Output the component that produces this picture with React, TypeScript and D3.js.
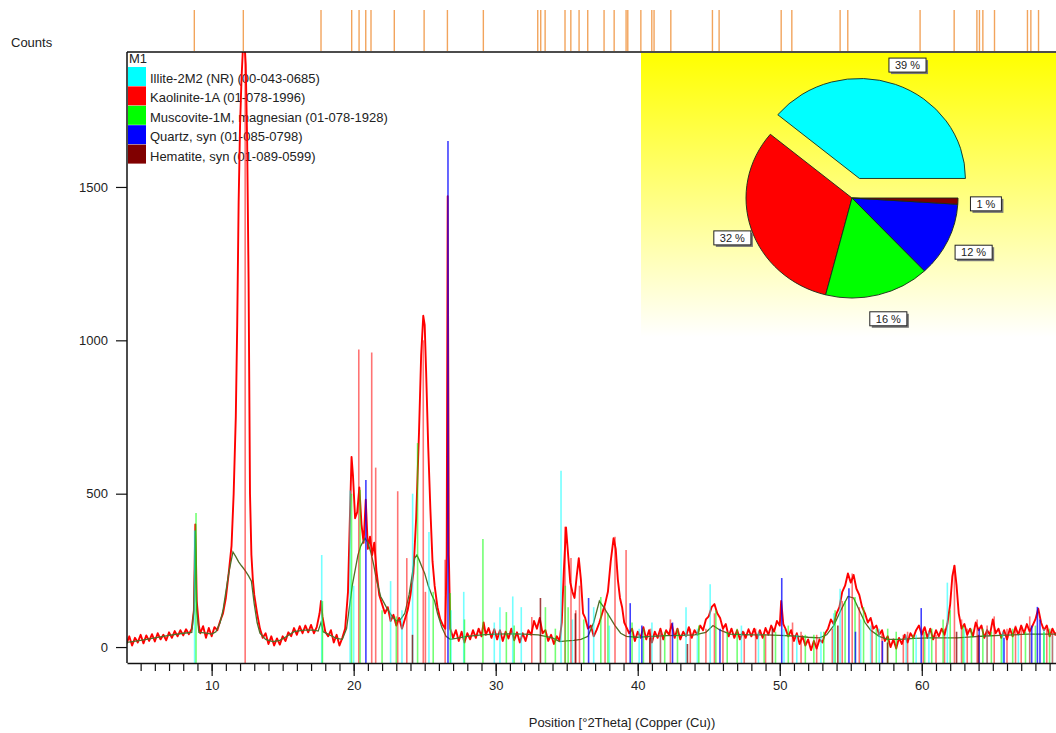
import React, { useEffect, useRef } from "react";
import * as d3 from "d3";

const W = 1056;
const H = 733;

const phaseNames = [
  "Illite-2M2 (NR) (00-043-0685)",
  "Kaolinite-1A (01-078-1996)",
  "Muscovite-1M, magnesian (01-078-1928)",
  "Quartz, syn (01-085-0798)",
  "Hematite, syn (01-089-0599)",
];
const phaseColors = ["#00ffff", "#ff0000", "#00ff00", "#0000ff", "#800000"];
const phasePercents = [39, 32, 16, 12, 1];

const xTicks = [10, 20, 30, 40, 50, 60];
const yTicks = [0, 500, 1000, 1500];

// peak list marks above the plot (°2θ)
const peakList = [
  8.78, 12.23, 17.7, 19.86, 20.38, 20.85, 21.22, 22.86, 24.96, 26.6, 29.13,
  32.96, 33.17, 33.48, 34.88, 35.29, 35.87, 36.48, 37.63, 38.34, 39.18, 39.3,
  40.22, 40.99, 41.15, 42.33, 45.26, 45.73, 50.1, 50.85, 54.25, 54.79, 59.88,
  62.28, 63.88, 64.06, 64.3, 65.12, 67.44, 67.68, 68.22,
];

// measured scan [°2θ, counts]
const measured: [number, number][] = [
  [4.0, 10], [4.2, 35], [4.4, 5], [4.6, 30], [4.8, 15], [5.0, 40], [5.2, 12], [5.4, 38],
  [5.6, 20], [5.8, 42], [6.0, 18], [6.2, 45], [6.4, 25], [6.6, 40], [6.8, 22], [7.0, 48],
  [7.2, 30], [7.4, 52], [7.6, 35], [7.8, 55], [8.0, 38], [8.2, 58], [8.4, 42], [8.6, 60],
  [8.75, 120], [8.85, 400], [8.95, 150], [9.1, 70], [9.2, 45], [9.4, 68], [9.6, 30], [9.8, 62],
  [10.0, 35], [10.2, 65], [10.4, 55], [10.6, 85], [10.8, 110], [11.0, 160], [11.2, 240],
  [11.4, 330], [11.55, 500], [11.7, 750], [11.8, 1050], [11.9, 1450], [12.0, 1700],
  [12.1, 1850], [12.2, 1950], [12.3, 1980], [12.4, 1900], [12.5, 1650], [12.6, 1200],
  [12.7, 500], [12.8, 300], [12.9, 220], [13.0, 170], [13.2, 110], [13.4, 60], [13.6, 30],
  [13.8, 45], [14.0, 10], [14.2, 35], [14.4, 5], [14.6, 28], [14.8, 8], [15.0, 35],
  [15.2, 20], [15.4, 48], [15.6, 35], [15.8, 62], [16.0, 40], [16.2, 68], [16.4, 45],
  [16.6, 70], [16.8, 48], [17.0, 72], [17.2, 45], [17.4, 65], [17.6, 110], [17.7, 150],
  [17.8, 100], [18.0, 50], [18.2, 35], [18.4, 55], [18.6, 15], [18.8, 40], [19.0, 5],
  [19.2, 30], [19.4, 60], [19.6, 180], [19.75, 450], [19.85, 620], [19.95, 560], [20.1, 420],
  [20.25, 440], [20.4, 520], [20.55, 400], [20.7, 340], [20.85, 480], [21.0, 320],
  [21.15, 360], [21.3, 300], [21.45, 340], [21.6, 250], [21.8, 170], [22.0, 140],
  [22.2, 110], [22.4, 130], [22.6, 85], [22.8, 105], [23.0, 70], [23.2, 95], [23.4, 60],
  [23.6, 90], [23.8, 120], [24.0, 170], [24.2, 240], [24.4, 420], [24.6, 700], [24.75, 950],
  [24.9, 1080], [25.0, 1050], [25.1, 900], [25.25, 650], [25.4, 450], [25.55, 280],
  [25.7, 200], [25.9, 130], [26.1, 90], [26.3, 70], [26.45, 60], [26.55, 300], [26.62, 1470],
  [26.7, 300], [26.8, 60], [27.0, 30], [27.2, 55], [27.4, 20], [27.6, 50], [27.8, 15],
  [28.0, 45], [28.2, 25], [28.4, 55], [28.6, 30], [28.8, 60], [29.0, 35], [29.15, 80],
  [29.3, 40], [29.5, 62], [29.7, 30], [29.9, 58], [30.1, 25], [30.3, 55], [30.5, 20],
  [30.7, 50], [30.9, 28], [31.1, 60], [31.3, 22], [31.5, 48], [31.7, 15], [31.9, 45],
  [32.1, 20], [32.3, 55], [32.5, 40], [32.7, 85], [32.9, 60], [33.1, 95], [33.3, 45],
  [33.5, 55], [33.7, 20], [33.9, 40], [34.1, 10], [34.3, 35], [34.5, 20], [34.65, 80],
  [34.8, 250], [34.95, 390], [35.1, 300], [35.25, 210], [35.4, 180], [35.55, 160],
  [35.7, 230], [35.85, 290], [36.0, 220], [36.15, 110], [36.3, 95], [36.5, 60], [36.7, 70],
  [36.9, 35], [37.1, 55], [37.3, 80], [37.5, 110], [37.7, 140], [37.9, 180], [38.1, 280],
  [38.3, 355], [38.45, 320], [38.6, 220], [38.75, 160], [38.9, 130], [39.05, 80], [39.2, 65],
  [39.4, 45], [39.6, 60], [39.8, 20], [40.0, 50], [40.2, 30], [40.4, 65], [40.6, 25],
  [40.8, 55], [41.0, 15], [41.2, 50], [41.4, 30], [41.6, 60], [41.8, 25], [42.0, 55],
  [42.2, 40], [42.4, 75], [42.6, 30], [42.8, 60], [43.0, 25], [43.2, 50], [43.4, 35],
  [43.6, 65], [43.8, 30], [44.0, 55], [44.2, 40], [44.4, 70], [44.6, 55], [44.8, 90],
  [45.0, 100], [45.2, 130], [45.4, 140], [45.6, 110], [45.8, 95], [46.0, 60], [46.2, 75],
  [46.4, 35], [46.6, 60], [46.8, 30], [47.0, 55], [47.2, 25], [47.4, 50], [47.6, 30],
  [47.8, 58], [48.0, 35], [48.2, 60], [48.4, 28], [48.6, 55], [48.8, 30], [49.0, 62],
  [49.2, 40], [49.4, 70], [49.6, 50], [49.8, 85], [50.0, 70], [50.1, 150], [50.25, 75],
  [50.4, 60], [50.6, 35], [50.8, 55], [51.0, 20], [51.2, 45], [51.4, 10], [51.6, 35],
  [51.8, 5], [52.0, 25], [52.2, -10], [52.4, 20], [52.6, -5], [52.8, 25], [53.0, 15],
  [53.2, 45], [53.4, 60], [53.6, 90], [53.8, 75], [54.0, 110], [54.2, 130], [54.4, 180],
  [54.6, 200], [54.8, 240], [55.0, 210], [55.2, 235], [55.4, 190], [55.6, 170], [55.8, 130],
  [56.0, 110], [56.2, 80], [56.4, 95], [56.6, 60], [56.8, 70], [57.0, 40], [57.2, 55],
  [57.4, 20], [57.6, 35], [57.8, 0], [58.0, 25], [58.2, -5], [58.4, 30], [58.6, 10],
  [58.8, 40], [59.0, 15], [59.2, 45], [59.4, 30], [59.6, 55], [59.8, 70], [60.0, 40],
  [60.2, 65], [60.4, 30], [60.6, 60], [60.8, 25], [61.0, 55], [61.2, 35], [61.4, 60],
  [61.6, 40], [61.8, 75], [62.0, 140], [62.15, 230], [62.3, 265], [62.45, 200], [62.6, 110],
  [62.8, 60], [63.0, 75], [63.2, 40], [63.4, 60], [63.6, 35], [63.8, 80], [64.0, 55],
  [64.2, 70], [64.4, 30], [64.6, 55], [64.8, 40], [65.0, 90], [65.2, 45], [65.4, 60],
  [65.6, 30], [65.8, 55], [66.0, 25], [66.2, 60], [66.4, 35], [66.6, 65], [66.8, 40],
  [67.0, 70], [67.2, 45], [67.4, 75], [67.6, 50], [67.8, 70], [68.0, 90], [68.2, 125],
  [68.4, 80], [68.6, 55], [68.8, 70], [69.0, 35], [69.2, 60], [69.4, 40], [69.6, 55],
];

// calculated profile (olive)
const calculated: [number, number][] = [
  [4.0, 15], [5.0, 22], [6.0, 30], [7.0, 38], [8.0, 45], [8.6, 48], [8.75, 120], [8.85, 380],
  [8.95, 120], [9.1, 48], [9.5, 46], [10.0, 42], [10.3, 50], [10.6, 80], [10.8, 120],
  [11.0, 180], [11.2, 240], [11.5, 310], [11.7, 295], [11.9, 278], [12.1, 265], [12.35, 250],
  [12.6, 232], [12.8, 215], [13.0, 140], [13.2, 80], [13.4, 45], [13.8, 25], [14.3, 18],
  [14.8, 22], [15.3, 35], [15.8, 50], [16.5, 55], [17.2, 55], [17.5, 52], [17.7, 80],
  [17.85, 50], [18.2, 42], [18.8, 28], [19.2, 25], [19.5, 60], [19.7, 130], [19.9, 200],
  [20.1, 250], [20.3, 300], [20.5, 330], [20.8, 355], [21.0, 340], [21.2, 310], [21.4, 270],
  [21.6, 220], [21.9, 165], [22.3, 130], [22.7, 100], [23.0, 85], [23.3, 90], [23.6, 110],
  [23.9, 170], [24.1, 230], [24.3, 290], [24.45, 300], [24.6, 285], [24.8, 262], [25.0, 240],
  [25.25, 200], [25.5, 170], [25.7, 150], [25.9, 110], [26.2, 65], [26.5, 35], [26.8, 25],
  [27.2, 28], [28.0, 35], [29.0, 40], [30.0, 42], [31.0, 43], [32.0, 42], [33.0, 40],
  [34.0, 30], [34.5, 18], [35.0, 20], [35.5, 22], [36.0, 25], [36.5, 35], [36.9, 80],
  [37.3, 150], [37.6, 130], [38.0, 100], [38.4, 70], [38.8, 45], [39.2, 35], [40.0, 32],
  [41.0, 35], [42.0, 37], [43.0, 38], [44.0, 40], [44.8, 48], [45.3, 70], [45.8, 55],
  [46.5, 42], [48.0, 40], [49.0, 40], [50.0, 38], [51.0, 36], [52.0, 32], [52.8, 30],
  [53.3, 40], [53.8, 70], [54.3, 120], [54.8, 165], [55.2, 160], [55.6, 120], [56.0, 80],
  [56.4, 55], [57.0, 35], [57.6, 25], [58.5, 25], [59.5, 28], [60.5, 30], [61.5, 30],
  [62.5, 30], [63.5, 33], [64.5, 36], [65.5, 38], [66.5, 40], [67.5, 42], [68.5, 42],
  [69.6, 42],
];

// reference sticks per phase [°2θ, counts]
const illiteSticks: [number, number][] = [
  [8.8, 380], [17.75, 300], [19.75, 510], [20.0, 200], [22.6, 215], [23.4, 120], [24.15, 500],
  [25.3, 375], [26.85, 120], [27.75, 180], [29.9, 80], [30.3, 130], [31.2, 165], [31.8, 130],
  [34.6, 575], [35.4, 90], [36.9, 130], [38.0, 70], [40.1, 60], [41.0, 80], [41.6, 50],
  [43.4, 130], [44.2, 60], [45.1, 205], [47.3, 70], [48.5, 50], [50.3, 60], [51.2, 40],
  [52.9, 50], [53.8, 110], [54.25, 190], [55.7, 90], [56.4, 70], [57.0, 60], [58.9, 40],
  [59.6, 40], [60.5, 50], [61.8, 210], [63.0, 60], [64.6, 60], [65.7, 50], [66.8, 40],
  [67.6, 50], [68.6, 60], [69.2, 40],
];
const kaoliniteSticks: [number, number][] = [
  [12.36, 2000], [20.36, 970], [21.27, 960], [21.55, 585], [23.1, 508], [23.74, 290],
  [24.9, 1000], [25.05, 180], [26.44, 285], [32.54, 98], [34.88, 392], [35.3, 290],
  [35.64, 120], [35.9, 200], [37.7, 130], [38.4, 360], [39.18, 316], [40.9, 60], [41.6, 50],
  [42.3, 90], [43.7, 60], [44.8, 60], [45.4, 110], [46.0, 70], [47.5, 50], [48.3, 60],
  [49.0, 40], [50.9, 80], [51.5, 50], [52.6, 40], [53.7, 60], [54.4, 150], [55.1, 240],
  [55.6, 130], [56.5, 80], [57.2, 50], [58.7, 40], [59.0, 50], [60.1, 60], [61.0, 40],
  [61.6, 60], [62.3, 267], [62.8, 90], [63.2, 60], [63.9, 90], [64.6, 70], [65.1, 100],
  [66.0, 60], [66.6, 70], [67.0, 70], [67.6, 100], [68.8, 60], [69.2, 50],
];
const muscoviteSticks: [number, number][] = [
  [8.9, 437], [17.8, 150], [19.85, 500], [20.45, 512], [22.0, 120], [23.0, 100], [24.5, 665],
  [25.6, 180], [26.8, 176], [27.8, 90], [29.1, 352], [30.75, 114], [31.3, 70], [33.5, 130],
  [34.2, 60], [34.9, 200], [35.1, 130], [36.2, 90], [37.4, 163], [37.9, 110], [39.6, 80],
  [40.4, 60], [41.9, 50], [42.8, 60], [44.3, 70], [45.5, 120], [46.3, 50], [47.0, 60],
  [48.9, 40], [49.7, 50], [50.6, 70], [51.8, 40], [52.4, 40], [53.1, 50], [53.9, 120],
  [54.6, 150], [55.3, 163], [55.9, 130], [56.8, 60], [57.6, 60], [58.2, 50], [59.4, 40],
  [60.2, 50], [60.7, 60], [61.5, 90], [62.0, 120], [62.9, 70], [63.5, 60], [64.3, 60],
  [64.9, 50], [65.6, 40], [66.4, 60], [67.3, 50], [68.0, 70], [68.6, 50], [69.0, 60],
];
const quartzSticks: [number, number][] = [
  [20.86, 545], [26.64, 1650], [36.54, 160], [39.47, 143], [40.29, 70], [42.45, 80],
  [45.79, 60], [50.14, 225], [54.87, 192], [55.33, 50], [57.23, 20], [59.96, 127],
  [64.04, 60], [65.79, 30], [67.74, 70], [68.14, 131], [68.32, 90],
];
const hematiteSticks: [number, number][] = [
  [24.14, 40], [33.15, 160], [35.61, 110], [40.85, 30], [43.5, 10], [49.48, 60], [54.09, 70],
  [57.59, 15], [62.45, 50], [63.99, 40],
];

const font = "'Liberation Sans', Arial, sans-serif";

export default function App() {
  const ref = useRef<SVGSVGElement>(null);

  useEffect(() => {
    document.body.style.margin = "0";
    const svg = d3.select(ref.current);
    svg.selectAll("*").remove();

    const left = 127, right = 1056, top = 52, bottom = 663;
    const x = d3.scaleLinear().domain([4.04, 69.45]).range([left, right]);
    const y = d3.scaleLinear().domain([-52, 1940]).range([bottom, top]);

    const defs = svg.append("defs");
    defs.append("clipPath").attr("id", "plot")
      .append("rect").attr("x", left).attr("y", top).attr("width", right - left).attr("height", bottom - top);
    const grad = defs.append("linearGradient").attr("id", "panel")
      .attr("x1", 0).attr("y1", 0).attr("x2", 0).attr("y2", 1);
    grad.append("stop").attr("offset", "0%").attr("stop-color", "#ffff00");
    grad.append("stop").attr("offset", "100%").attr("stop-color", "#ffffff");

    // legend, drawn under the data
    const legend = svg.append("g").style("font-family", font).style("font-size", "13px");
    legend.append("text").attr("x", 129).attr("y", 63).attr("fill", "#222").text("M1");
    phaseNames.forEach((name, i) => {
      const t = 67 + i * 19.4;
      legend.append("rect").attr("x", left + 1).attr("y", t).attr("width", 18).attr("height", 19)
        .attr("fill", phaseColors[i]);
      legend.append("text").attr("x", 150).attr("y", t + 16).attr("fill", "#222").text(name);
    });

    // peak list above the frame
    svg.append("g").selectAll("line").data(peakList).join("line")
      .attr("x1", d => x(d)).attr("x2", d => x(d))
      .attr("y1", 10).attr("y2", top - 1)
      .attr("stroke", "#f2a45c").attr("stroke-width", 1.4);

    const plot = svg.append("g").attr("clip-path", "url(#plot)");
    const line = d3.line<[number, number]>().x(d => x(d[0])).y(d => y(d[1]));

    plot.append("path").datum(measured).attr("d", line)
      .attr("fill", "none").attr("stroke", "#ff0000").attr("stroke-width", 1.9)
      .attr("stroke-linejoin", "round");
    plot.append("path").datum(calculated).attr("d", line)
      .attr("fill", "none").attr("stroke", "#4f6f2a").attr("stroke-width", 1.3);

    const sticks = [illiteSticks, kaoliniteSticks, muscoviteSticks, quartzSticks, hematiteSticks];
    sticks.forEach((set, i) => {
      plot.append("g").selectAll("line").data(set).join("line")
        .attr("x1", d => x(d[0])).attr("x2", d => x(d[0]))
        .attr("y1", bottom).attr("y2", d => y(d[1]))
        .attr("stroke", phaseColors[i])
        .attr("stroke-opacity", i === 3 || i === 4 ? 0.75 : 0.55)
        .attr("stroke-width", 1.6);
    });

    // axes
    const axisStyle = (g: d3.Selection<SVGGElement, unknown, null, undefined>) => {
      g.selectAll("path").attr("stroke", "#111").attr("stroke-width", 1.5);
      g.selectAll("line").attr("stroke", "#111").attr("stroke-width", 1.2);
      g.selectAll("text").style("font-family", font).style("font-size", "13px").attr("fill", "#222");
    };
    svg.append("g").attr("transform", `translate(0,${bottom})`)
      .call(d3.axisBottom(x).tickValues(d3.range(5, 70)).tickSize(8).tickSizeOuter(0).tickFormat(() => ""))
      .call(axisStyle);
    svg.append("g").attr("transform", `translate(0,${bottom})`)
      .call(d3.axisBottom(x).tickValues(xTicks).tickSize(13).tickSizeOuter(0).tickPadding(5).tickFormat(d3.format("d")))
      .call(g => g.select(".domain").remove())
      .call(axisStyle);
    svg.append("g").attr("transform", `translate(${left},0)`)
      .call(d3.axisLeft(y).tickValues(yTicks).tickSize(11).tickSizeOuter(0).tickPadding(8).tickFormat(d3.format("d")))
      .call(g => g.select(".domain").remove())
      .call(axisStyle);
    svg.append("line").attr("x1", left).attr("x2", left).attr("y1", top).attr("y2", bottom)
      .attr("stroke", "#111").attr("stroke-width", 1.5);
    svg.append("line").attr("x1", left).attr("x2", right).attr("y1", top).attr("y2", top)
      .attr("stroke", "#111").attr("stroke-width", 1.5);

    svg.append("text").attr("x", 11).attr("y", 47).style("font-family", font).style("font-size", "13px")
      .attr("fill", "#222").text("Counts");
    svg.append("text").attr("x", 622).attr("y", 727).attr("text-anchor", "middle")
      .style("font-family", font).style("font-size", "13px").attr("fill", "#222")
      .text("Position [°2Theta] (Copper (Cu))");

    // quantification inset
    const px = 641;
    svg.append("rect").attr("x", px).attr("y", top + 1).attr("width", right - px).attr("height", 284)
      .attr("fill", "url(#panel)");

    const cx = 852, cy = 198, R = 106, sy = 100 / 106, explode = 22, Rl = 130;
    const pie = d3.pie<number>().sort(null).startAngle(Math.PI / 2).endAngle(Math.PI / 2 - 2 * Math.PI);
    const arcs = pie(phasePercents);
    const arc = d3.arc<d3.PieArcDatum<number>>().innerRadius(0).outerRadius(R);
    const off = (d: d3.PieArcDatum<number>, i: number) => {
      const a = (d.startAngle + d.endAngle) / 2;
      return i === 0 ? [Math.sin(a) * explode, -Math.cos(a) * explode] : [0, 0];
    };
    const pg = svg.append("g").attr("transform", `translate(${cx},${cy}) scale(1,${sy})`);
    pg.selectAll("path").data(arcs).join("path")
      .attr("transform", (d, i) => `translate(${off(d, i)[0]},${off(d, i)[1]})`)
      .attr("d", arc)
      .attr("fill", (d, i) => phaseColors[i])
      .attr("stroke", "#1a2a1a").attr("stroke-width", 0.9)
      .attr("vector-effect", "non-scaling-stroke");

    arcs.forEach((d, i) => {
      const a = (d.startAngle + d.endAngle) / 2;
      const [ox, oy] = off(d, i);
      const lx = cx + Math.sin(a) * Rl + ox + 4;
      const ly = cy + (-Math.cos(a) * Rl + oy) * sy + 2;
      const lg = svg.append("g");
      const shadow = lg.append("rect");
      const box = lg.append("rect");
      const txt = lg.append("text").attr("x", lx).attr("y", ly + 4).attr("text-anchor", "middle")
        .style("font-family", font).style("font-size", "11px").attr("fill", "#222")
        .text(`${phasePercents[i]} %`);
      const tw = (txt.node() as SVGTextElement).getComputedTextLength();
      const bw = tw + 12, bh = 14;
      shadow.attr("x", lx - bw / 2 + 2).attr("y", ly - bh / 2 + 2).attr("width", bw).attr("height", bh)
        .attr("fill", "#777");
      box.attr("x", lx - bw / 2).attr("y", ly - bh / 2).attr("width", bw).attr("height", bh)
        .attr("fill", "#fff").attr("stroke", "#222").attr("stroke-width", 1);
    });
  }, []);

  return <svg ref={ref} width={W} height={H} style={{ display: "block" }} />;
}
